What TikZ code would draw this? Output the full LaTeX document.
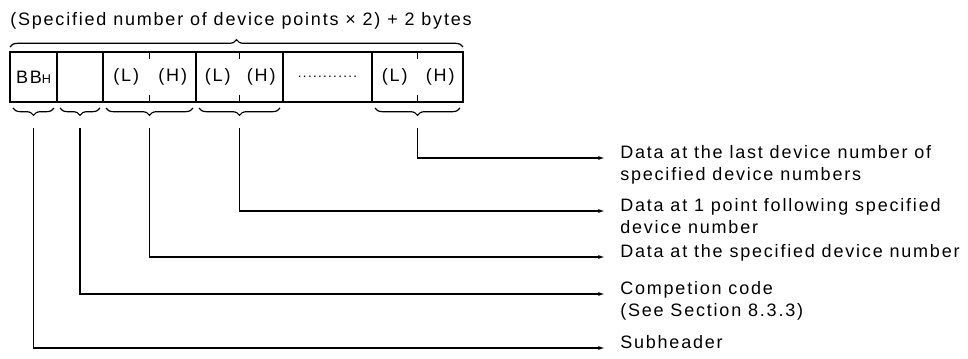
\documentclass[tikz,border=0pt]{standalone}
\usepackage{fontspec}
\setmainfont{Liberation Sans}[LetterSpace=10]
\usetikzlibrary{positioning,calc,decorations.pathreplacing,arrows.meta}

\begin{document}
\begin{tikzpicture}[x=0.75pt, y=-0.75pt,
  every node/.style={font=\fontsize{13.5pt}{16.5pt}\selectfont},
  cell/.style={draw, line width=1.1pt, minimum height=37.5pt, inner sep=0pt, outer sep=0pt},
  lbl/.style={anchor=base west, align=left, inner sep=0pt},
  link/.style={line width=1pt, -{Latex[length=5pt,width=3pt]}},
  brc/.style={decorate, decoration={brace, amplitude=5.5pt}, line width=0.9pt}]
\useasboundingbox (0,0) rectangle (968,358);
\node[lbl] (title) at (10,25) {(Specified number of device points × 2) + 2 bytes};
% frame cells
\node[cell, minimum width=35.25pt] (bb) at (33.5,77) {BB{\fontsize{9.5pt}{9.5pt}\selectfont H}};
\node[cell, minimum width=34.5pt, right=0pt of bb] (cc) {};
\node[cell, minimum width=69.75pt, right=0pt of cc] (d1) {};
\node[cell, minimum width=65.25pt, right=0pt of d1] (d2) {};
\node[cell, minimum width=66.75pt, right=0pt of d2] (dots) {\fontsize{10pt}{10pt}\selectfont ............};
\node[cell, minimum width=68.25pt, right=0pt of dots] (dn) {};
\node (d1l) at ($(d1.west)!0.25!(d1.east)$) {(L)};
\node (d1h) at ($(d1.west)!0.75!(d1.east)$) {(H)};
\node (d2l) at ($(d2.west)!0.25!(d2.east)$) {(L)};
\node (d2h) at ($(d2.west)!0.75!(d2.east)$) {(H)};
\node (dnl) at ($(dn.west)!0.25!(dn.east)$) {(L)};
\node (dnh) at ($(dn.west)!0.75!(dn.east)$) {(H)};
\draw[line width=1pt] (d1.north) -- ++(0,7) (d1.south) -- ++(0,-7)
  (d2.north) -- ++(0,7) (d2.south) -- ++(0,-7)
  (dn.north) -- ++(0,7) (dn.south) -- ++(0,-7);
% braces
\draw[brc] ([shift={(0,-5)}]bb.north west) -- ([shift={(0,-5)}]dn.north east);
\draw[brc] ([shift={(-3,6)}]bb.south east) -- ([shift={(3,6)}]bb.south west);
\draw[brc] ([shift={(-3,6)}]cc.south east) -- ([shift={(3,6)}]cc.south west);
\draw[brc] ([shift={(-3,6)}]d1.south east) -- ([shift={(3,6)}]d1.south west);
\draw[brc] ([shift={(-3,6)}]d2.south east) -- ([shift={(3,6)}]d2.south west);
\draw[brc] ([shift={(-3,6)}]dn.south east) -- ([shift={(3,6)}]dn.south west);
\coordinate (t1) at ([shift={(0,26)}]bb.south);
\coordinate (t2) at ([shift={(0,26)}]cc.south);
\coordinate (t3) at ([shift={(0,26)}]d1.south);
\coordinate (t4) at ([shift={(0,26)}]d2.south);
\coordinate (t5) at ([shift={(0,26)}]dn.south);
% descriptions (base = last line)
\node[lbl] (last) at (620,180) {Data at the last device number of\\specified device numbers};
\node[lbl] (next) at (620,233) {Data at 1 point following specified\\device number};
\node[lbl] (first) at (620,257) {Data at the specified device number};
\node[lbl] (comp) at (620,316) {Competion code\\(See Section 8.3.3)};
\node[lbl] (sub) at (620,348) {Subheader};
\draw[link] (t5) |- ([shift={(-15,-22)}]last.base west);
\draw[link] (t4) |- ([shift={(-15,-22)}]next.base west);
\draw[link] (t3) |- ([shift={(-15,0)}]first.base west);
\draw[link] (t2) |- ([shift={(-15,-22)}]comp.base west);
\draw[link] (t1) |- ([shift={(-15,0)}]sub.base west);
\end{tikzpicture}
\end{document}
